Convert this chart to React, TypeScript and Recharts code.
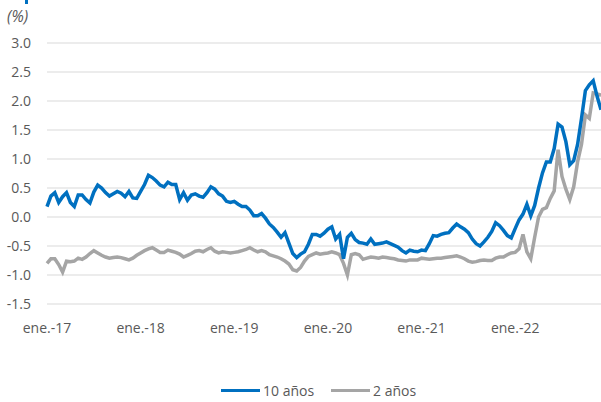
import { CartesianGrid, Line, LineChart, XAxis, YAxis } from "recharts";

// Half-monthly readings, starting ene.-17 (t = index / 2 months)
const tenYear = [
  0.18, 0.36, 0.42, 0.25, 0.35, 0.42, 0.25, 0.18, 0.38, 0.38,
  0.3, 0.24, 0.43, 0.55, 0.5, 0.42, 0.36, 0.4, 0.44, 0.41,
  0.35, 0.44, 0.33, 0.32, 0.44, 0.56, 0.72, 0.68, 0.62, 0.55,
  0.52, 0.6, 0.56, 0.56, 0.3, 0.42, 0.29, 0.38, 0.4, 0.36,
  0.34, 0.42, 0.52, 0.48, 0.4, 0.36, 0.27, 0.25, 0.27, 0.22,
  0.18, 0.18, 0.12, 0.02, 0.02, 0.06, -0.02, -0.12, -0.18, -0.26,
  -0.35, -0.27, -0.45, -0.63, -0.7, -0.64, -0.6, -0.47, -0.3, -0.3,
  -0.33, -0.28, -0.21, -0.17, -0.38, -0.3, -0.72, -0.35, -0.28, -0.39,
  -0.44, -0.45, -0.47, -0.38, -0.47, -0.46, -0.45, -0.43, -0.46, -0.49,
  -0.52, -0.58, -0.62, -0.57, -0.59, -0.6, -0.57, -0.58, -0.46, -0.32,
  -0.33, -0.3, -0.28, -0.27, -0.19, -0.12, -0.17, -0.21, -0.27, -0.38,
  -0.46, -0.5, -0.43, -0.35, -0.25, -0.1, -0.15, -0.23, -0.32, -0.36,
  -0.2, -0.05, 0.05, 0.22, 0.02, 0.2, 0.5, 0.76, 0.95, 0.95,
  1.18, 1.6, 1.55, 1.3, 0.9, 0.97, 1.25, 1.7, 2.18, 2.28,
  2.35, 2.08, 1.85,
];

const twoYear = [
  -0.8, -0.72, -0.72, -0.82, -0.95, -0.76, -0.77, -0.76, -0.71, -0.73,
  -0.69, -0.63, -0.58, -0.62, -0.66, -0.69, -0.71, -0.7, -0.69, -0.7,
  -0.72, -0.74, -0.71, -0.66, -0.62, -0.58, -0.55, -0.53, -0.57, -0.61,
  -0.61, -0.57, -0.59, -0.61, -0.64, -0.69, -0.66, -0.63, -0.59, -0.58,
  -0.6, -0.56, -0.53, -0.59, -0.62, -0.6, -0.61, -0.62, -0.61, -0.6,
  -0.58, -0.56, -0.53, -0.57, -0.6, -0.58, -0.6, -0.65, -0.67, -0.69,
  -0.72, -0.76, -0.81, -0.91, -0.93, -0.87, -0.76, -0.68, -0.65, -0.62,
  -0.64, -0.63, -0.62, -0.6, -0.62, -0.65, -0.8, -1.0, -0.65, -0.63,
  -0.65, -0.73, -0.71, -0.69, -0.7, -0.71, -0.69, -0.7, -0.71, -0.72,
  -0.74, -0.75, -0.76, -0.74, -0.74, -0.74, -0.71, -0.72, -0.73, -0.72,
  -0.71, -0.71, -0.7, -0.69, -0.68, -0.67, -0.69, -0.72, -0.76, -0.78,
  -0.77, -0.75, -0.74, -0.75, -0.75, -0.71, -0.69, -0.69, -0.65, -0.62,
  -0.61, -0.55, -0.3, -0.6, -0.72, -0.35, 0.0, 0.13, 0.16, 0.32,
  0.45, 1.16, 0.7, 0.48, 0.3, 0.52, 0.95, 1.25, 1.76, 1.7,
  2.14, 2.12, 2.1,
];

const xTicks = [0, 12, 24, 36, 48, 60];
const xLabels = ["ene.-17", "ene.-18", "ene.-19", "ene.-20", "ene.-21", "ene.-22"];
const yTicks = [-1.5, -1.0, -0.5, 0, 0.5, 1.0, 1.5, 2.0, 2.5, 3.0];

const BLUE = "#0070C0";
const GRAY = "#A5A5A5";
const TEXT = "#595959";
const FONT = "'Open Sans', sans-serif";

const data = tenYear.map((v, i) => ({ t: i / 2, ten: v, two: twoYear[i] }));

export default function App() {
  const tick = { fill: TEXT, fontSize: 14, fontFamily: FONT };
  return (
    <div style={{ position: "absolute", left: 0, top: 0, width: 601, height: 402, background: "#fff", fontFamily: FONT }}>
      <div style={{ position: "absolute", left: 25, top: 0, width: 3, height: 4, background: BLUE }} />
      <div style={{ position: "absolute", left: 7, top: 5, fontSize: 15.5, fontStyle: "italic", color: TEXT }}>(%)</div>
      <LineChart width={601} height={402} data={data} margin={{ top: 43, right: 0, bottom: 68, left: 0 }}>
        <CartesianGrid horizontal vertical={false} stroke="#D9D9D9" />
        <XAxis
          dataKey="t"
          type="number"
          domain={[0, 71]}
          ticks={xTicks}
          tickFormatter={(v) => xLabels[xTicks.indexOf(v)] ?? ""}
          tick={tick}
          axisLine={false}
          tickLine={false}
          tickSize={0}
          tickMargin={19}
          height={30}
          interval={0}
        />
        <YAxis
          domain={[-1.5, 3]}
          ticks={yTicks}
          tickFormatter={(v) => v.toFixed(1)}
          tick={tick}
          axisLine={false}
          tickLine={false}
          tickSize={0}
          tickMargin={16}
          width={47}
          interval={0}
        />
        <Line type="linear" dataKey="two" stroke={GRAY} strokeWidth={3.5} dot={false} activeDot={false} isAnimationActive={false} />
        <Line type="linear" dataKey="ten" stroke={BLUE} strokeWidth={3.5} dot={false} activeDot={false} isAnimationActive={false} />
      </LineChart>
      <div style={{ position: "absolute", left: 221, top: 381, display: "flex", alignItems: "center", fontSize: 14, color: TEXT }}>
        <span style={{ width: 39, height: 3, background: BLUE, marginRight: 3 }} />
        <span style={{ marginRight: 17 }}>10 años</span>
        <span style={{ width: 39, height: 3, background: GRAY, marginRight: 3 }} />
        <span>2 años</span>
      </div>
    </div>
  );
}
